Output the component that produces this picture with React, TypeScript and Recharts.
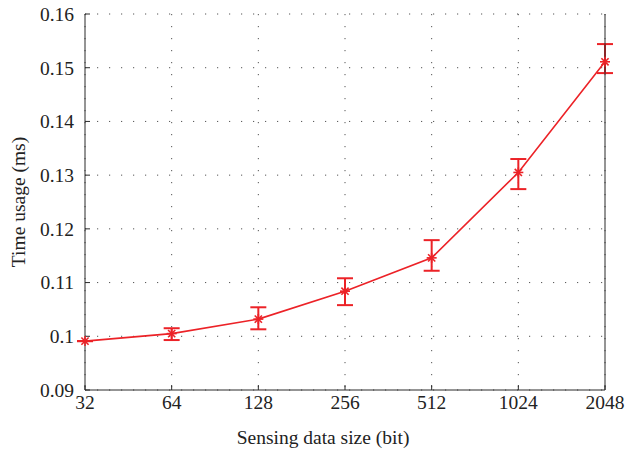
import React from "react";
import {
  LineChart,
  Line,
  XAxis,
  YAxis,
  CartesianGrid,
  ErrorBar,
} from "recharts";

const sizes = ["32", "64", "128", "256", "512", "1024", "2048"];
const timeUsage = [0.0991, 0.1005, 0.1032, 0.1084, 0.1146, 0.1305, 0.1511];
const errLow = [0, 0.0012, 0.0019, 0.0026, 0.0024, 0.0031, 0.0021];
const errHigh = [0, 0.001, 0.0022, 0.0024, 0.0033, 0.0025, 0.0033];
const yTicks = [0.09, 0.1, 0.11, 0.12, 0.13, 0.14, 0.15, 0.16];

const data = sizes.map((s, i) => ({
  size: s,
  time: timeUsage[i],
  err: [errLow[i], errHigh[i]],
}));

const RED = "#ec2227";
const AXIS = "#2b2b2b";
const FONT = "'Liberation Serif', 'DejaVu Serif', serif";
const TEXT = { fill: "#222", fontSize: 19.5, fontFamily: FONT };

const Star = (props: any) => {
  const { cx, cy } = props;
  if (cx == null || cy == null) return null;
  const r = 5;
  const d = r * 0.72;
  return (
    <g stroke={RED} strokeWidth={1.6}>
      <line x1={cx - r} y1={cy} x2={cx + r} y2={cy} />
      <line x1={cx} y1={cy - r} x2={cx} y2={cy + r} />
      <line x1={cx - d} y1={cy - d} x2={cx + d} y2={cy + d} />
      <line x1={cx - d} y1={cy + d} x2={cx + d} y2={cy - d} />
    </g>
  );
};

const fmt = (v: number) => String(Math.round(v * 100) / 100);

export default function App() {
  return (
    <div style={{ position: "absolute", left: 0, top: 0, background: "#fff" }}>
      <LineChart
        width={626}
        height={453}
        data={data}
        margin={{ top: 14, right: 20, bottom: 33, left: 0 }}
      >
        <CartesianGrid
          stroke="#555"
          strokeDasharray="1.2 10.8"
          strokeWidth={1}
        />
        <XAxis
          dataKey="size"
          height={30}
          stroke={AXIS}
          tickSize={-5}
          tickMargin={10}
          tick={TEXT}
          interval={0}
          label={{
            value: "Sensing data size (bit)",
            position: "bottom",
            offset: 10,
            dx: -22,
            style: TEXT,
          }}
        />
        <XAxis
          xAxisId="top"
          dataKey="size"
          orientation="top"
          height={0}
          stroke={AXIS}
          tickSize={-5}
          tick={false}
          interval={0}
        />
        <YAxis
          domain={[0.09, 0.16]}
          ticks={yTicks}
          width={85}
          stroke={AXIS}
          tickSize={-5}
          tickMargin={16}
          tickFormatter={fmt}
          tick={TEXT}
          label={{
            value: "Time usage (ms)",
            angle: -90,
            position: "insideLeft",
            offset: 18,
            style: { ...TEXT, textAnchor: "middle" },
          }}
        />
        <YAxis
          yAxisId="right"
          orientation="right"
          domain={[0.09, 0.16]}
          ticks={yTicks}
          width={1}
          stroke={AXIS}
          tickSize={-5}
          tick={false}
        />
        <Line
          type="linear"
          dataKey="time"
          stroke={RED}
          strokeWidth={1.6}
          dot={<Star />}
          activeDot={false}
          isAnimationActive={false}
        >
          <ErrorBar
            dataKey="err"
            direction="y"
            width={8}
            stroke={RED}
            strokeWidth={2}
            isAnimationActive={false}
          />
        </Line>
      </LineChart>
    </div>
  );
}
